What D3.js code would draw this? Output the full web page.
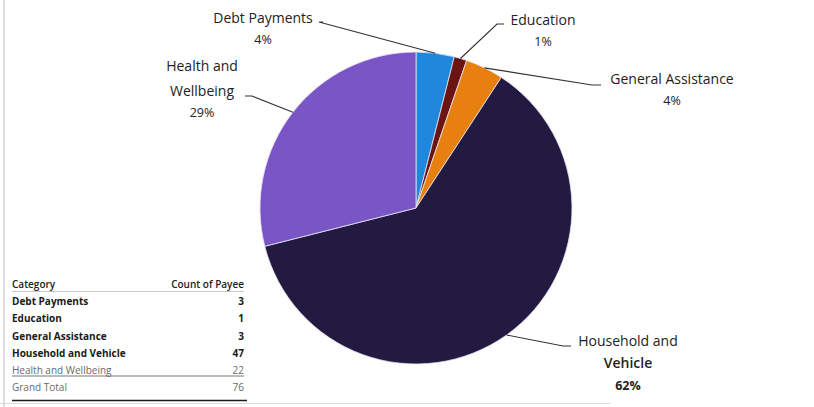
<!DOCTYPE html>
<html>
<head>
<meta charset="utf-8">
<script src="https://cdn.jsdelivr.net/npm/d3@7/dist/d3.min.js"></script>
<style>
  html, body { margin: 0; padding: 0; background: #fff; }
  svg { display: block; }
  text { font-family: "Open Sans", "Noto Sans", sans-serif; }
</style>
</head>
<body>
<svg id="chart" width="814" height="407"></svg>
<script>
// Payee counts by category (pivot table source)
const categories = ["Debt Payments", "Education", "General Assistance", "Household and Vehicle", "Health and Wellbeing"];
const counts = [3, 1, 3, 47, 22];
const tableHeader = ["Category", "Count of Payee"];
const totalLabel = "Grand Total";

const colors = ["#2088dc", "#6a1414", "#e8800f", "#231a42", "#7a55c6"];

// Label text lines, anchor point, line gaps and leader elbow per slice
const labelLayout = {
  "Debt Payments":        { lines: ["Debt Payments"], x: 263, y: 23, gaps: [21], elbow: [[319, 22], [323, 22]], weights: [400] },
  "Education":            { lines: ["Education"], x: 543, y: 25, gaps: [21], elbow: [[497, 24], [504, 24]], weights: [400] },
  "General Assistance":   { lines: ["General Assistance"], x: 672, y: 84, gaps: [21], elbow: [[592, 85], [601, 85]], weights: [400] },
  "Household and Vehicle":{ lines: ["Household and", "Vehicle"], x: 628, y: 346, gaps: [22, 22], elbow: [[563, 346], [571, 346]], weights: [400, 600] },
  "Health and Wellbeing": { lines: ["Health and", "Wellbeing"], x: 202, y: 71, gaps: [25, 21], elbow: [[252, 96], [245, 96]], weights: [400, 400] }
};

const svg = d3.select("#chart");
const W = 814, H = 407;

// frame lines
svg.append("line").attr("x1", 4).attr("x2", 4).attr("y1", 0).attr("y2", H)
  .attr("stroke", "#c8c8c8").attr("stroke-width", 1.2);
svg.append("line").attr("x1", 0).attr("x2", 610).attr("y1", 403.5).attr("y2", 403.5)
  .attr("stroke", "#dcdcdc").attr("stroke-width", 1);

// pie
const cx = 416, cy = 208, R = 156;
const total = d3.sum(counts);
const data = categories.map((c, i) => ({ category: c, value: counts[i], color: colors[i] }));
const pie = d3.pie().value(d => d.value).sort(null);
const arcs = pie(data);
const arc = d3.arc().innerRadius(0).outerRadius(R);

const g = svg.append("g").attr("transform", `translate(${cx},${cy})`);
g.selectAll("path").data(arcs).join("path")
  .attr("d", arc)
  .attr("fill", d => d.data.color)
  .attr("stroke", "#e8e4f0")
  .attr("stroke-width", 0.8);

// labels with leader lines
const pct = d3.format(".0%");
arcs.forEach(a => {
  const L = labelLayout[a.data.category];
  const mid = (a.startAngle + a.endAngle) / 2;
  const px = cx + R * Math.sin(mid), py = cy - R * Math.cos(mid);
  const pts = [[px, py], ...L.elbow];
  svg.append("path")
    .attr("d", d3.line()(pts))
    .attr("fill", "none")
    .attr("stroke", "#333")
    .attr("stroke-width", 1.1);
  const t = svg.append("text")
    .attr("x", L.x).attr("y", L.y)
    .attr("text-anchor", "middle")
    .attr("fill", "#222")
    .attr("font-size", 14);
  L.lines.forEach((ln, i) => {
    t.append("tspan").attr("x", L.x).attr("dy", i === 0 ? 0 : L.gaps[0])
      .attr("font-weight", L.weights[i]).text(ln);
  });
  t.append("tspan").attr("x", L.x).attr("dy", L.gaps[L.gaps.length - 1])
    .attr("font-weight", a.data.category === "Household and Vehicle" ? 700 : 400)
    .attr("font-size", 12.5)
    .text(pct(a.data.value / total));
});

// pivot table
const tx0 = 12, tx1 = 244;
const tbl = svg.append("g").attr("font-size", 10);
const rowY = d3.scalePoint().domain(d3.range(7)).range([288, 391]);
tbl.append("text").attr("x", tx0).attr("y", rowY(0)).attr("font-weight", 600).attr("fill", "#222").text(tableHeader[0]);
tbl.append("text").attr("x", tx1).attr("y", rowY(0)).attr("text-anchor", "end").attr("font-weight", 600).attr("fill", "#222").text(tableHeader[1]);
tbl.append("line").attr("x1", tx0).attr("x2", tx1).attr("y1", 291.5).attr("y2", 291.5).attr("stroke", "#bbb").attr("stroke-width", 0.8);

categories.forEach((c, i) => {
  const light = i === 4;
  const y = rowY(i + 1);
  tbl.append("text").attr("x", tx0).attr("y", y)
    .attr("font-weight", light ? 400 : 700).attr("fill", light ? "#6a6a6a" : "#1a1a1a").text(c);
  tbl.append("text").attr("x", tx1).attr("y", y).attr("text-anchor", "end")
    .attr("font-weight", light ? 400 : 700).attr("fill", light ? "#6a6a6a" : "#1a1a1a").text(counts[i]);
});
tbl.append("line").attr("x1", tx0).attr("x2", tx1).attr("y1", 376).attr("y2", 376).attr("stroke", "#777").attr("stroke-width", 1);
tbl.append("text").attr("x", tx0).attr("y", rowY(6)).attr("fill", "#6a6a6a").text(totalLabel);
tbl.append("text").attr("x", tx1).attr("y", rowY(6)).attr("text-anchor", "end").attr("fill", "#6a6a6a").text(total);
tbl.append("line").attr("x1", tx0).attr("x2", tx1 + 3).attr("y1", 400.5).attr("y2", 400.5).attr("stroke", "#1a1a1a").attr("stroke-width", 1.6);
</script>
</body>
</html>
